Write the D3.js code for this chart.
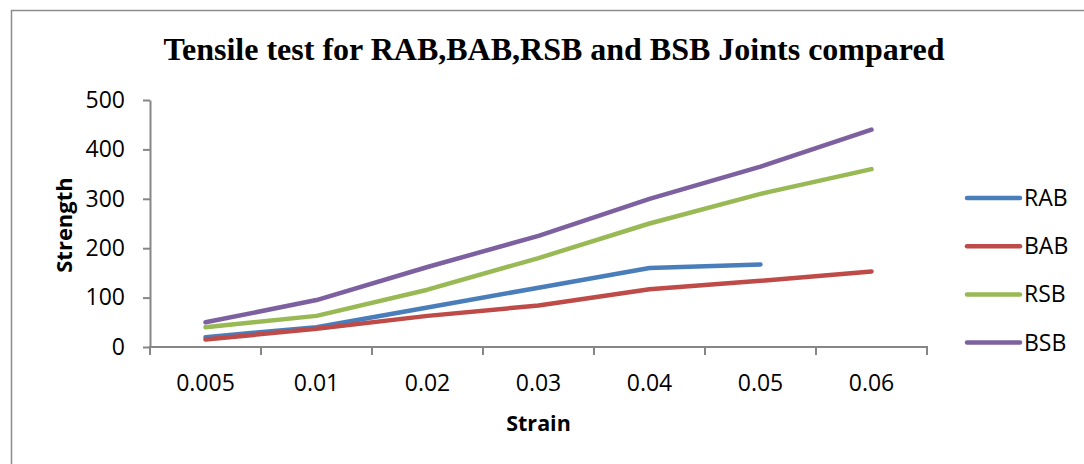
<!DOCTYPE html>
<html>
<head>
<meta charset="utf-8">
<script src="https://cdn.jsdelivr.net/npm/d3@7"></script>
<style>
  body { margin: 0; background: #fff; }
  svg { display: block; }
</style>
</head>
<body>
<svg id="chart" width="1084" height="464"></svg>
<script>
// Strain categories and tensile strength per joint type
const strains = ["0.005", "0.01", "0.02", "0.03", "0.04", "0.05", "0.06"];
const RAB = [20, 40, 80, 120, 160, 167, null];
const BAB = [15, 37, 63, 84, 117, 134, 153];
const RSB = [40, 63, 116, 180, 250, 310, 360];
const BSB = [50, 95, 162, 225, 300, 365, 440];
const yTicks = [0, 100, 200, 300, 400, 500];

const seriesNames = ["RAB", "BAB", "RSB", "BSB"];
const seriesValues = [RAB, BAB, RSB, BSB];
const colors = ["#4A7EBB", "#BE4B48", "#98B954", "#7D60A0"];

const svg = d3.select("#chart");
const axisColor = "#868686";
const sans = "'Open Sans', 'DejaVu Sans', sans-serif";

// outer frame
svg.append("path")
  .attr("d", "M11.5,464 L11.5,10.5 L1084,10.5")
  .attr("fill", "none")
  .attr("stroke", "#8c8c8c")
  .attr("stroke-width", 1.5);

// title
svg.append("text")
  .attr("x", 554).attr("y", 60)
  .attr("text-anchor", "middle")
  .attr("font-family", "'Liberation Serif', 'Times New Roman', serif")
  .attr("font-weight", "bold")
  .attr("font-size", 32)
  .text("Tensile test for RAB,BAB,RSB and BSB Joints compared");

const plot = { left: 150, right: 927, top: 100, bottom: 347 };

const x = d3.scaleBand().domain(strains).range([plot.left, plot.right]);
const y = d3.scaleLinear().domain([0, 500]).range([plot.bottom, plot.top]);

// y axis
const yAxis = svg.append("g")
  .attr("transform", `translate(${plot.left},0)`)
  .call(d3.axisLeft(y).tickValues(yTicks).tickSize(7).tickSizeOuter(0).tickPadding(18));
yAxis.select(".domain").attr("stroke", axisColor).attr("stroke-width", 2);
yAxis.selectAll(".tick line").attr("stroke", axisColor).attr("stroke-width", 2);
yAxis.selectAll(".tick text")
  .attr("font-family", sans).attr("font-size", 23).attr("fill", "#000");

// x axis with ticks on category boundaries
const xAxisG = svg.append("g").attr("transform", `translate(0,${plot.bottom})`);
xAxisG.append("line")
  .attr("x1", plot.left).attr("x2", plot.right)
  .attr("stroke", axisColor).attr("stroke-width", 2);
const boundaries = strains.map(s => x(s)).concat([plot.right]);
xAxisG.selectAll("line.tk").data(boundaries).join("line")
  .attr("class", "tk")
  .attr("x1", d => d).attr("x2", d => d)
  .attr("y1", -1).attr("y2", 8)
  .attr("stroke", axisColor).attr("stroke-width", 2);
xAxisG.selectAll("text").data(strains).join("text")
  .attr("x", d => x(d) + x.bandwidth() / 2)
  .attr("y", 44)
  .attr("text-anchor", "middle")
  .attr("font-family", sans).attr("font-size", 23)
  .text(d => d);

// axis titles
svg.append("text")
  .attr("x", x("0.03") + x.bandwidth() / 2).attr("y", 431)
  .attr("text-anchor", "middle")
  .attr("font-family", sans).attr("font-weight", "bold").attr("font-size", 21.5)
  .text("Strain");
svg.append("text")
  .attr("transform", "translate(72,225) rotate(-90)")
  .attr("text-anchor", "middle")
  .attr("font-family", sans).attr("font-weight", "bold").attr("font-size", 22)
  .text("Strength");

// series lines
const line = d3.line()
  .defined(d => d.v != null)
  .x(d => x(d.s) + x.bandwidth() / 2)
  .y(d => y(d.v));

seriesValues.forEach((vals, i) => {
  svg.append("path")
    .datum(strains.map((s, j) => ({ s, v: vals[j] })))
    .attr("d", line)
    .attr("fill", "none")
    .attr("stroke", colors[i])
    .attr("stroke-width", 4.5)
    .attr("stroke-linecap", "round")
    .attr("stroke-linejoin", "round");
});

// legend
const legend = svg.append("g");
seriesNames.forEach((name, i) => {
  const ly = 198 + i * 48.2;
  legend.append("line")
    .attr("x1", 967).attr("x2", 1020)
    .attr("y1", ly).attr("y2", ly)
    .attr("stroke", colors[i]).attr("stroke-width", 4.5)
    .attr("stroke-linecap", "round");
  legend.append("text")
    .attr("x", 1024).attr("y", ly + 8)
    .attr("font-family", sans).attr("font-size", 23)
    .text(name);
});
</script>
</body>
</html>
